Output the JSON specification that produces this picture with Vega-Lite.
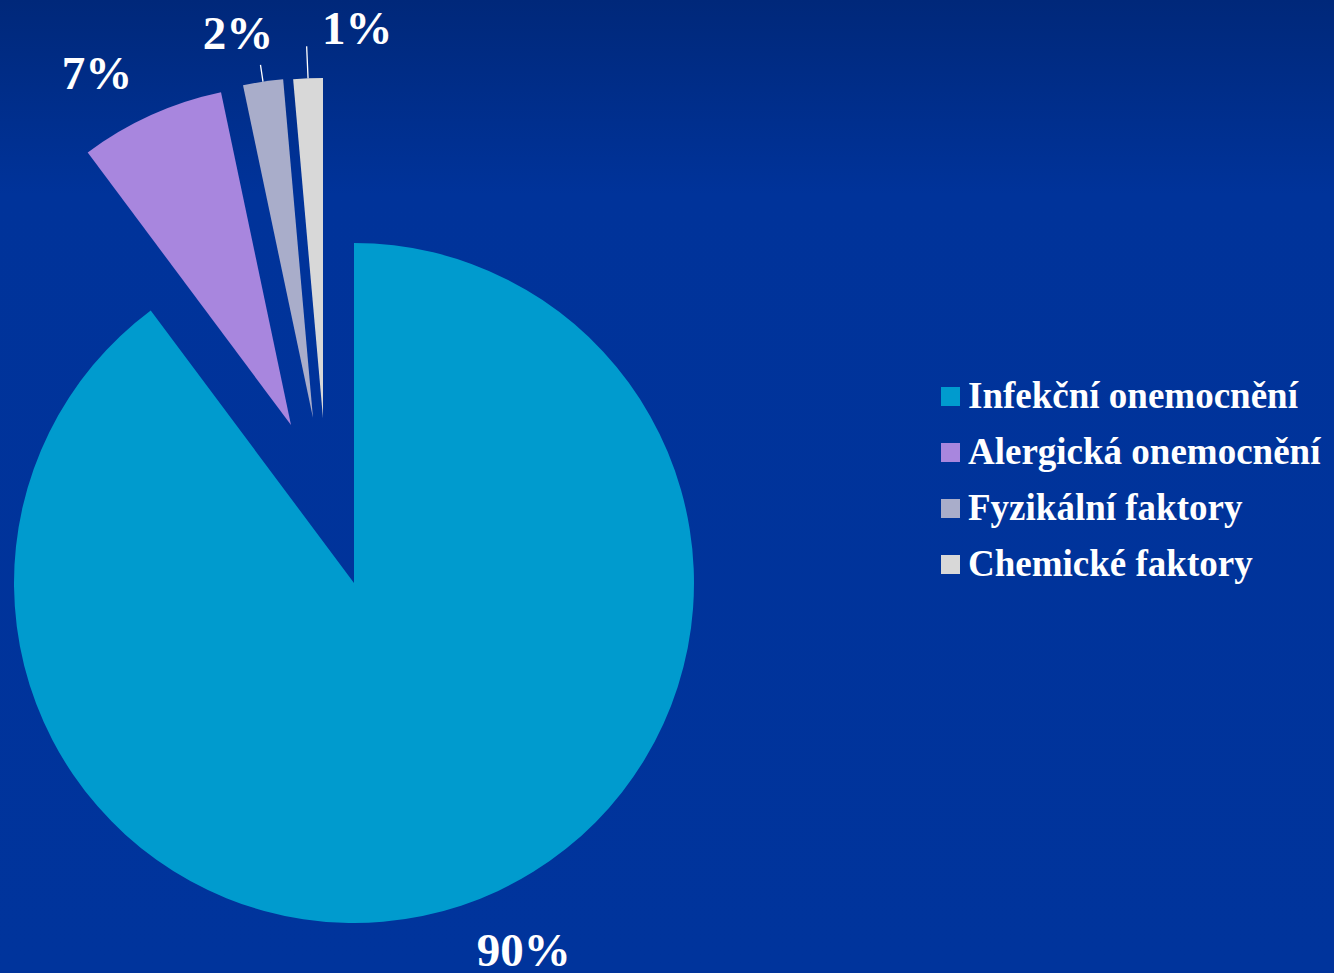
{
  "$schema": "https://vega.github.io/schema/vega-lite/v6.json",
  "width": 1334,
  "height": 973,
  "autosize": {"type": "fit", "contains": "padding"},
  "padding": 0,
  "background": "#00339A",
  "config": {"view": {"stroke": null}},
  "data": {
    "values": [
      {"kategorie": "Infekční onemocnění", "podil": 0.898},
      {"kategorie": "Alergická onemocnění", "podil": 0.069},
      {"kategorie": "Fyzikální faktory", "podil": 0.019},
      {"kategorie": "Chemické faktory", "podil": 0.014}
    ]
  },
  "transform": [
    {"stack": "podil", "groupby": [], "sort": [{"field": "podil", "order": "descending"}], "as": ["t0", "t1"]},
    {"calculate": "(datum.t0 + datum.t1) / 2", "as": "tm"}
  ],
  "layer": [
    {
      "data": {"values": [{"pozadi": 1}]},
      "mark": {
        "type": "rect",
        "fill": {
          "gradient": "linear",
          "x1": 0, "y1": 0, "x2": 0, "y2": 1,
          "stops": [
            {"offset": 0, "color": "#00287A"},
            {"offset": 0.2, "color": "#00339A"},
            {"offset": 1, "color": "#00349C"}
          ]
        }
      },
      "encoding": {}
    },
    {
      "mark": {
        "type": "arc",
        "outerRadius": 340,
        "x": {"expr": "datum.kategorie === 'Infekční onemocnění' ? 354 : datum.kategorie === 'Alergická onemocnění' ? 291 : datum.kategorie === 'Fyzikální faktory' ? 313 : 323"},
        "y": {"expr": "datum.kategorie === 'Infekční onemocnění' ? 583 : datum.kategorie === 'Alergická onemocnění' ? 425 : 418"}
      },
      "encoding": {
        "theta": {"field": "t0", "type": "quantitative", "stack": null, "scale": {"domain": [0, 1], "range": [0, 6.283185307179586]}},
        "theta2": {"field": "t1"},
        "color": {
          "field": "kategorie",
          "type": "nominal",
          "scale": {
            "domain": ["Infekční onemocnění", "Alergická onemocnění", "Fyzikální faktory", "Chemické faktory"],
            "range": ["#009BCE", "#A886DE", "#A9ADCA", "#D8D8D8"]
          },
          "legend": {
            "orient": "none",
            "legendX": 932,
            "legendY": 378,
            "title": null,
            "padding": 0,
            "symbolType": "square",
            "symbolSize": 361,
            "symbolStrokeWidth": 0,
            "symbolOpacity": 1,
            "labelFont": "Liberation Serif",
            "labelFontWeight": "bold",
            "labelFontSize": 37,
            "labelColor": "#FFFFFF",
            "labelLimit": 700,
            "labelOffset": -1,
            "rowPadding": 18
          }
        }
      }
    },
    {
      "mark": {
        "type": "text",
        "font": "Liberation Serif",
        "fontWeight": "bold",
        "fontSize": 47,
        "color": "#FFFFFF",
        "align": "center",
        "baseline": "middle",
        "x": {"expr": "datum.kategorie === 'Infekční onemocnění' ? 354 : datum.kategorie === 'Alergická onemocnění' ? 291 : datum.kategorie === 'Fyzikální faktory' ? 313 : 323"},
        "y": {"expr": "datum.kategorie === 'Infekční onemocnění' ? 583 : datum.kategorie === 'Alergická onemocnění' ? 425 : 418"},
        "radius": {"expr": "datum.kategorie === 'Infekční onemocnění' ? 406 : datum.kategorie === 'Alergická onemocnění' ? 400 : 390"},
        "thetaOffset": {"expr": "datum.kategorie === 'Infekční onemocnění' ? -0.111 : datum.kategorie === 'Alergická onemocnění' ? -0.082 : datum.kategorie === 'Fyzikální faktory' ? -0.046 : 0.132"}
      },
      "encoding": {
        "theta": {"field": "tm", "type": "quantitative", "stack": null, "scale": {"domain": [0, 1], "range": [0, 6.283185307179586]}},
        "text": {"field": "podil", "type": "quantitative", "format": ".0%"}
      }
    },
    {
      "transform": [{"filter": "datum.podil < 0.05"}],
      "mark": {
        "type": "arc",
        "innerRadius": 340,
        "outerRadius": {"expr": "datum.kategorie === 'Fyzikální faktory' ? 357 : 372"},
        "fill": null,
        "stroke": "#FFFFFF",
        "strokeWidth": 1.3,
        "x": {"expr": "datum.kategorie === 'Fyzikální faktory' ? 313 : 323"},
        "y": 418
      },
      "encoding": {
        "theta": {"field": "tm", "type": "quantitative", "stack": null, "scale": {"domain": [0, 1], "range": [0, 6.283185307179586]}},
        "theta2": {"field": "tm"}
      }
    }
  ]
}
